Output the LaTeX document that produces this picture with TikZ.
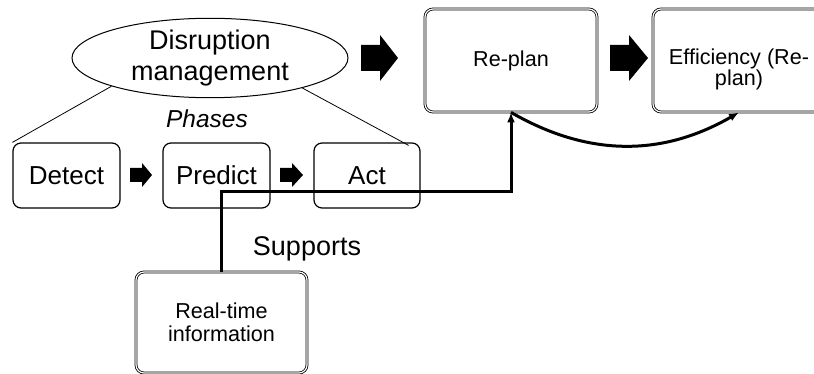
\documentclass[tikz,border=0pt]{standalone}
\usepackage{fontspec}
\setmainfont{Liberation Sans}
\usetikzlibrary{shapes.geometric,arrows.meta}
\begin{document}
\begin{tikzpicture}[x=1pt,y=-1pt,
  phasebox/.style={draw,rounded corners=8pt,line width=1.2pt,minimum width=107pt,minimum height=65pt,inner sep=0pt,font=\fontsize{26}{30}\selectfont},
  dblbox/.style={draw,rounded corners=8pt,double,double distance=1.2pt,line width=0.8pt,minimum width=172pt,minimum height=103pt,inner sep=0pt,align=center,font=\fontsize{21.6}{20}\selectfont},
  thinline/.style={line width=0.8pt},
  thickline/.style={line width=3pt,-{Latex[length=10pt,width=8pt]}}]
 \useasboundingbox (0,0) rectangle (814,374);
 \node[ellipse,draw,line width=1pt,minimum width=276pt,minimum height=76pt,inner sep=0pt,align=center,font=\fontsize{27}{31}\selectfont] (ell) at (210,58) {Disruption\\management};
 \node[font=\fontsize{24.5}{28}\selectfont\itshape,anchor=base] (phases) at (207,128) {Phases};
 \node[phasebox] (detect) at (66.5,175.5) {Detect};
 \node[phasebox] (predict) at (216.5,175.5) {Predict};
 \node[phasebox,minimum width=106pt] (act) at (367,175.5) {Act};
 \node[dblbox] (replan) at (511,60.5) {Re-plan};
 \node[dblbox] (effic) at (739,60.5) {};
 \node[align=center,font=\fontsize{21.6}{20}\selectfont] (efftxt) at ([yshift=-9pt]effic.center) {Efficiency (Re-\\plan)};
 \node[dblbox,minimum width=171pt,minimum height=101pt,font=\fontsize{21.6}{23}\selectfont] (rti) at (221.5,322.5) {Real-time\\information};
 \node[font=\fontsize{27}{31}\selectfont,anchor=base] (supports) at (307,255) {Supports};
 \draw[thinline] (ell.-164) -- (detect.north west);
 \draw[thinline] (ell.-18) -- ([xshift=-12pt,yshift=-3pt]act.north east);
 \fill (130,168) -- (142,168) -- (142,163) -- (152,175) -- (142,187) -- (142,182) -- (130,182) -- cycle;
 \fill (280,168) -- (292,168) -- (292,163) -- (303,175) -- (292,187) -- (292,182) -- (280,182) -- cycle;
 \fill (361,45) -- (380,45) -- (380,35) -- (398,58) -- (380,81) -- (380,71) -- (361,71) -- cycle;
 \fill (610,45) -- (629,45) -- (629,35) -- (648,58) -- (629,81) -- (629,71) -- (610,71) -- cycle;
 \draw[thickline] (rti.north) -- ++(0,-80) -| (replan.south);
 \draw[thickline] (replan.south) to[out=-30,in=-150] (effic.south);
\end{tikzpicture}
\end{document}
